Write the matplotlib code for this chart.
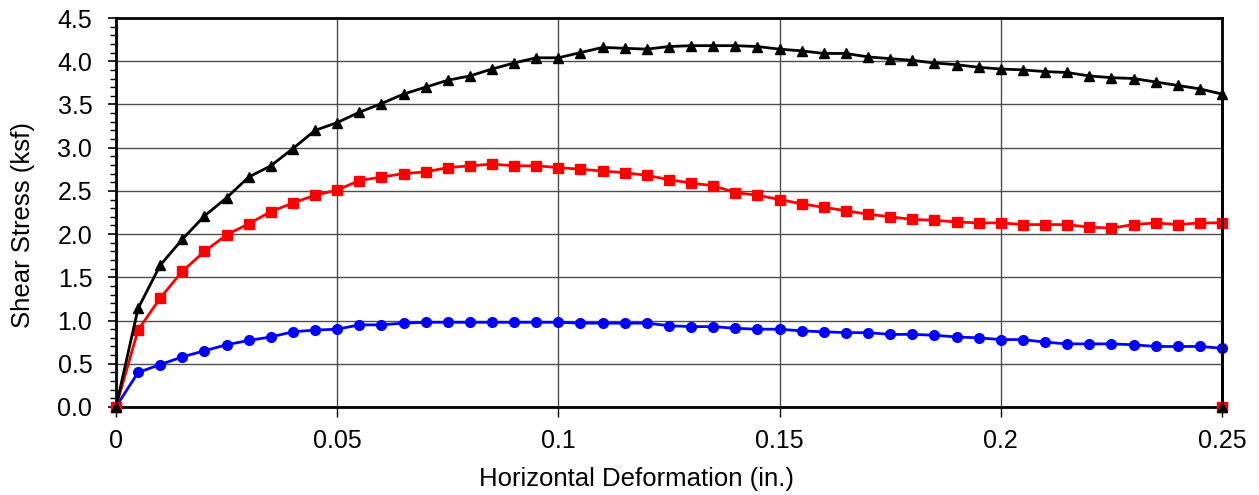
import numpy as np
import matplotlib
matplotlib.use('Agg')
import matplotlib.pyplot as plt
from matplotlib.ticker import MultipleLocator, FormatStrFormatter

plt.rcParams['font.family'] = ['Liberation Sans', 'DejaVu Sans']

# horizontal deformation (in.), every 0.005 in., last point repeated at zero stress
deform = [i * 0.005 for i in range(51)] + [0.25]

stress_low = [0.00, 0.40, 0.49, 0.58, 0.65, 0.72, 0.77, 0.81, 0.87, 0.89,
              0.90, 0.95, 0.95, 0.97, 0.98, 0.98, 0.98, 0.98, 0.98, 0.98,
              0.98, 0.97, 0.97, 0.97, 0.97, 0.94, 0.93, 0.93, 0.91, 0.90,
              0.90, 0.88, 0.87, 0.86, 0.86, 0.84, 0.84, 0.83, 0.81, 0.80,
              0.78, 0.78, 0.75, 0.73, 0.73, 0.73, 0.72, 0.70, 0.70, 0.70,
              0.68, 0.00]

stress_mid = [0.00, 0.89, 1.26, 1.57, 1.80, 1.99, 2.12, 2.26, 2.36, 2.45,
              2.51, 2.62, 2.66, 2.70, 2.72, 2.77, 2.79, 2.81, 2.79, 2.79,
              2.77, 2.75, 2.73, 2.71, 2.68, 2.63, 2.59, 2.56, 2.48, 2.45,
              2.40, 2.35, 2.31, 2.27, 2.23, 2.20, 2.17, 2.16, 2.14, 2.13,
              2.13, 2.11, 2.11, 2.11, 2.08, 2.07, 2.11, 2.13, 2.11, 2.13,
              2.13, 0.00]

stress_high = [0.00, 1.14, 1.64, 1.94, 2.21, 2.42, 2.66, 2.79, 2.99, 3.20,
               3.29, 3.41, 3.51, 3.62, 3.70, 3.78, 3.83, 3.91, 3.98, 4.04,
               4.04, 4.10, 4.16, 4.15, 4.14, 4.17, 4.18, 4.18, 4.18, 4.17,
               4.14, 4.12, 4.09, 4.09, 4.05, 4.03, 4.01, 3.98, 3.96, 3.93,
               3.91, 3.90, 3.88, 3.87, 3.83, 3.81, 3.80, 3.76, 3.72, 3.68,
               3.62, 0.00]

x_ticks = [0, 0.05, 0.1, 0.15, 0.2, 0.25]
x_tick_labels = ['0', '0.05', '0.1', '0.15', '0.2', '0.25']

fig = plt.figure(figsize=(12.59, 4.95), dpi=100)
ax = fig.add_axes([0.0921, 0.1778, 0.8785, 0.7858])

series = [(stress_low, '#0000FF', 'o', 3),
          (stress_mid, '#FF0000', 's', 4),
          (stress_high, 'black', '^', 5)]
for vals, color, marker, z in series:
    # main curve; the last zero point is drawn on its own (its drop hides behind the black curve)
    ax.plot(deform[:-1], vals[:-1], color=color, linewidth=2, marker=marker,
            markersize=7, clip_on=False, zorder=z)
    ax.plot(deform[-2:], vals[-2:], color='black', linewidth=2, linestyle='-',
            clip_on=False, zorder=5)
    ax.plot(deform[-1:], vals[-1:], color=color, marker=marker, markersize=7,
            linestyle='none', clip_on=False, zorder=z + 2)

ax.set_xlim(0, 0.25)
ax.set_ylim(0, 4.5)
ax.set_xticks(x_ticks)
ax.set_xticklabels(x_tick_labels, fontsize=18)
ax.yaxis.set_major_locator(MultipleLocator(0.5))
ax.yaxis.set_minor_locator(MultipleLocator(0.1))
ax.yaxis.set_major_formatter(FormatStrFormatter('%.1f'))
ax.tick_params(axis='y', which='major', labelsize=18, length=6, width=1.2,
               direction='out', pad=11)
ax.tick_params(axis='y', which='minor', length=4, width=1, direction='out')
ax.tick_params(axis='x', which='major', length=7, width=1, direction='out', pad=9)

ax.grid(True, which='major', color='#4d4d4d', linewidth=1, zorder=0)
ax.set_axisbelow(True)

for side in ['top', 'bottom', 'left', 'right']:
    ax.spines[side].set_linewidth(2)
    ax.spines[side].set_color('black')

ax.set_xlabel('Horizontal Deformation (in.)', fontsize=18.5, labelpad=7)
ax.xaxis.set_label_coords(0.471, -0.155)
ax.set_ylabel('Shear Stress (ksf)', fontsize=18.5, labelpad=14)
ax.yaxis.set_label_coords(-0.073, 0.468)

fig.savefig('out.png', dpi=100)
